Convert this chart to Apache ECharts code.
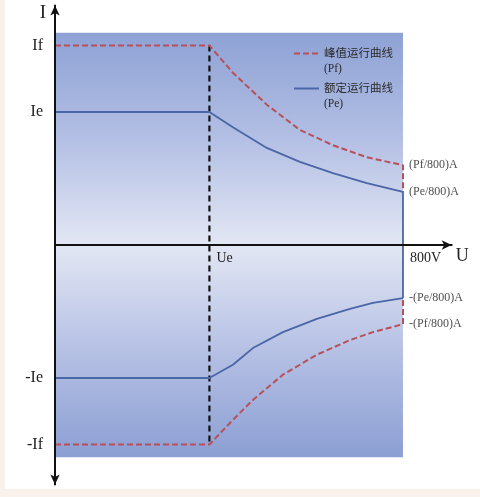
<!DOCTYPE html>
<html><head><meta charset="utf-8">
<script src="https://cdn.jsdelivr.net/npm/echarts@6/dist/echarts.min.js"></script>
<style>html,body{margin:0;padding:0;background:#fff}#c{width:480px;height:497px}</style>
</head><body><div id="c"></div>
<script>
// Data (voltage in V, current in units where If = 3, Ie = 2)
const Ue = 355;
const voltsPfUp = [0, 355, 409, 487, 563, 639, 717, 800, 800];
const pfUp      = [3, 3, 2.59, 2.11, 1.73, 1.50, 1.32, 1.20, 0.80];
const voltsPeUp = [0, 355, 409, 487, 563, 639, 717, 800, 800];
const peUp      = [2, 2, 1.77, 1.46, 1.25, 1.08, 0.93, 0.80, -0.80];
const voltsPeLow = [0, 355, 409, 455, 524, 602, 678, 731, 800];
const peLow      = [-2, -2, -1.80, -1.55, -1.31, -1.11, -0.96, -0.87, -0.80];
const voltsPfLow = [0, 355, 409, 455, 524, 602, 678, 731, 800, 800];
const pfLow      = [-3, -3, -2.63, -2.33, -1.95, -1.65, -1.43, -1.31, -1.19, -0.80];
const ueLineY = [3, -3];
const yTickValues = [3, 2, -2, -3];
const yTickLabels = ['If', 'Ie', '-Ie', '-If'];
const xTickValues = [Ue, 800];
const xTickLabels = ['Ue', '800V'];
const endValues = [1.20, 0.80, -0.80, -1.19];
const endLabels = ['(Pf/800)A', '(Pe/800)A', '-(Pe/800)A', '-(Pf/800)A'];
const bgTop = 3.19, bgBottom = -3.19, bgRight = 800;
const namePf = '峰值运行曲线\n(Pf)';
const namePe = '额定运行曲线\n(Pe)';

const zip = (xs, ys) => xs.map((x, i) => [x, ys[i]]);
const serif = '"Liberation Serif","DejaVu Serif","Noto Sans CJK SC",serif';
const pfStyle = { color: '#b8505a', width: 2, type: [6, 3] };
const peStyle = { color: '#4a66a6', width: 1.8, type: 'solid' };
const gridHeight = 478.8;

const chart = echarts.init(document.getElementById('c'));
chart.setOption({
  animation: false,
  backgroundColor: '#fff',
  grid: { left: 55, top: 5.6, height: gridHeight, width: 396.7, containLabel: false, outerBoundsMode: 'none' },
  graphic: [
    { type: 'rect', left: 0, top: 0, shape: { width: 5, height: 497 }, style: { fill: '#f9f2ec' }, z: -1 },
    { type: 'rect', left: 0, top: 489, shape: { width: 480, height: 8 }, style: { fill: '#f9f2ec' }, z: -1 }
  ],
  legend: {
    orient: 'vertical', left: 293, top: 31, padding: 0, itemWidth: 25, itemHeight: 10, itemGap: -10,
    data: [namePf, namePe],
    itemStyle: { opacity: 0 },
    formatter: n => ' \n' + n,
    textStyle: { fontFamily: serif, fontSize: 11.5, color: '#2a2a2a', lineHeight: 15 }
  },
  xAxis: {
    type: 'value', min: 0, max: 912, z: 5, position: 'bottom', offset: -gridHeight / 2,
    name: 'U', nameLocation: 'end', nameGap: 4,
    nameTextStyle: { fontFamily: serif, fontSize: 18, color: '#222', verticalAlign: 'top', padding: [2, 0, 0, 0] },
    axisLine: { onZero: false, lineStyle: { color: '#111', width: 2 }, symbol: ['none', 'arrow'], symbolSize: [7, 10] },
    axisTick: { show: false }, splitLine: { show: false },
    axisLabel: {
      customValues: xTickValues, align: 'left', padding: [0, 0, 0, 7], margin: 6,
      fontFamily: serif, fontSize: 14, color: '#222',
      formatter: v => xTickLabels[xTickValues.indexOf(v)]
    }
  },
  yAxis: {
    type: 'value', min: -3.6, max: 3.6, z: 5,
    name: 'I', nameLocation: 'end', nameGap: -17,
    nameTextStyle: { fontFamily: serif, fontSize: 19, color: '#222', align: 'right', padding: [0, 9, 0, 0] },
    axisLine: { onZero: false, lineStyle: { color: '#111', width: 2 }, symbol: ['arrow', 'arrow'], symbolSize: [7, 10] },
    axisTick: { show: false }, splitLine: { show: false },
    axisLabel: {
      customValues: yTickValues, margin: 12,
      fontFamily: serif, fontSize: 16, color: '#222',
      formatter: v => yTickLabels[yTickValues.indexOf(v)]
    }
  },
  series: [
    {
      type: 'line', name: 'bg', data: [], silent: true, z: 1,
      markArea: {
        silent: true,
        itemStyle: {
          color: { type: 'linear', x: 0, y: 0, x2: 0, y2: 1, colorStops: [
            { offset: 0, color: '#8ea2d5' }, { offset: 0.25, color: '#b3bfe4' },
            { offset: 0.5, color: '#e3e7f4' }, { offset: 0.75, color: '#b5c0e4' },
            { offset: 1, color: '#8c9fd3' } ] }
        },
        data: [[{ coord: [0, bgTop] }, { coord: [bgRight, bgBottom] }]]
      }
    },
    { type: 'line', name: 'ue', data: zip([Ue, Ue], ueLineY), symbol: 'none', silent: true, z: 3,
      lineStyle: { color: '#111', width: 2.2, type: [6, 4] } },
    { type: 'line', name: namePf, data: zip(voltsPfUp, pfUp), symbol: 'none', lineStyle: pfStyle, itemStyle: { color: pfStyle.color }, z: 4 },
    { type: 'line', name: namePe, data: zip(voltsPeUp, peUp), symbol: 'none', lineStyle: peStyle, itemStyle: { color: peStyle.color }, z: 4 },
    { type: 'line', name: namePe, data: zip(voltsPeLow, peLow), symbol: 'none', lineStyle: peStyle, itemStyle: { color: peStyle.color }, z: 4 },
    { type: 'line', name: namePf, data: zip(voltsPfLow, pfLow), symbol: 'none', lineStyle: pfStyle, itemStyle: { color: pfStyle.color }, z: 4 },
    {
      type: 'scatter', name: 'ends', symbolSize: 0, silent: true, z: 5,
      data: endValues.map((v, i) => ({ value: [bgRight, v], label: { formatter: endLabels[i] } })),
      label: { show: true, position: 'right', distance: 6, fontFamily: serif, fontSize: 12, color: '#222' }
    }
  ]
});
</script></body></html>
